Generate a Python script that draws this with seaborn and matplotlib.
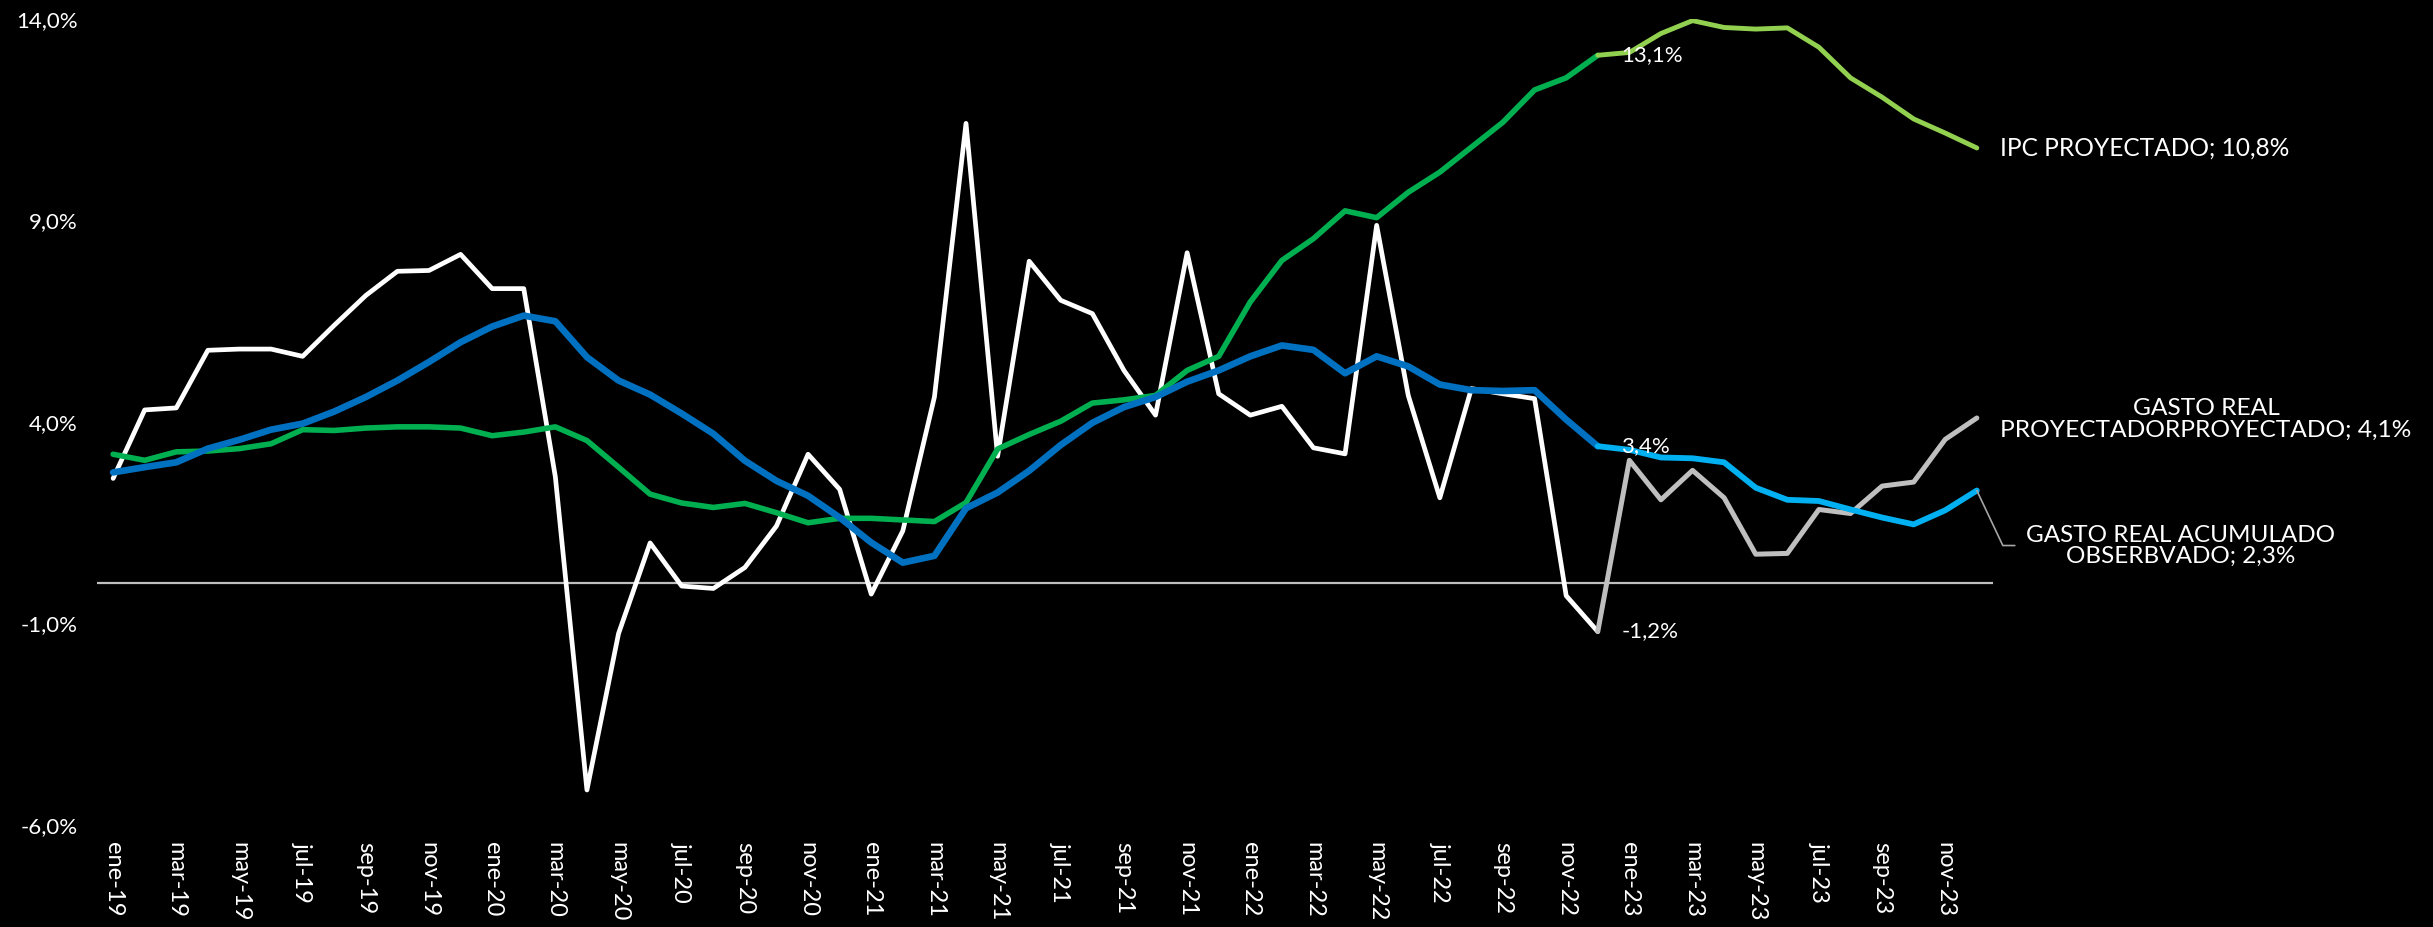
import numpy as np
import pandas as pd
import matplotlib
matplotlib.use("Agg")
import matplotlib.pyplot as plt
import seaborn as sns

# Month labels, ene-19 .. dic-23
abrev = ["ene", "feb", "mar", "abr", "may", "jun", "jul", "ago", "sep", "oct", "nov", "dic"]
meses = [f"{m}-{a}" for a in range(19, 24) for m in abrev]

# Observed series, ene-19 .. dic-22 (%)
gasto_real = [2.6, 4.3, 4.35, 5.78, 5.81, 5.81, 5.63, 6.40, 7.14, 7.74, 7.76, 8.16,
              7.31, 7.31, 2.64, -5.13, -1.25, 1.0, -0.07, -0.13, 0.39, 1.42, 3.2, 2.33,
              -0.27, 1.30, 4.62, 11.41, 3.15, 7.99, 7.02, 6.69, 5.28, 4.17, 8.2, 4.70,
              4.17, 4.39, 3.36, 3.21, 8.88, 4.66, 2.12, 4.83, 4.70, 4.58, -0.31, -1.2]
gasto_acum = [2.75, 2.88, 3.0, 3.34, 3.56, 3.81, 3.96, 4.26, 4.62, 5.03, 5.49, 5.98,
              6.37, 6.64, 6.50, 5.61, 5.03, 4.68, 4.21, 3.71, 3.04, 2.54, 2.17, 1.63,
              1.01, 0.51, 0.68, 1.86, 2.25, 2.79, 3.43, 3.98, 4.37, 4.62, 5.0, 5.28,
              5.63, 5.90, 5.79, 5.21, 5.63, 5.38, 4.93, 4.79, 4.77, 4.79, 4.06, 3.4]
ipc = [3.20, 3.05, 3.26, 3.28, 3.34, 3.46, 3.81, 3.79, 3.85, 3.88, 3.88, 3.85,
       3.66, 3.75, 3.88, 3.54, 2.88, 2.21, 1.99, 1.88, 1.98, 1.75, 1.50, 1.61,
       1.61, 1.57, 1.53, 2.0, 3.33, 3.69, 4.02, 4.47, 4.55, 4.66, 5.28, 5.63,
       6.98, 8.01, 8.55, 9.24, 9.07, 9.70, 10.20, 10.82, 11.44, 12.24, 12.54, 13.1]

# Projected series, dic-22 .. dic-23 (%)
gasto_real_proy = [-1.2, 3.05, 2.07, 2.80, 2.12, 0.72, 0.74, 1.83, 1.73, 2.41, 2.51, 3.57, 4.1]
gasto_acum_proy = [3.4, 3.31, 3.12, 3.10, 3.0, 2.37, 2.07, 2.04, 1.83, 1.63, 1.46, 1.81, 2.3]
ipc_proy = [13.1, 13.17, 13.64, 13.96, 13.79, 13.75, 13.78, 13.30, 12.54, 12.06, 11.52, 11.17, 10.8]

etiqueta_ipc_proy = "IPC PROYECTADO; 10,8%"
etiqueta_gasto_proy = "GASTO REAL\nPROYECTADORPROYECTADO; 4,1%"
etiqueta_gasto_acum = "GASTO REAL ACUMULADO\nOBSERBVADO; 2,3%"

n_obs = len(gasto_real)
idx_obs = np.arange(n_obs)
idx_proy = np.arange(n_obs - 1, len(meses))

sns.set_theme(style="white")
plt.rcParams["font.family"] = ["Lato", "DejaVu Sans"]
plt.rcParams["text.color"] = "white"

fig = plt.figure(figsize=(24.33, 9.27), dpi=100, facecolor="black")
ax = fig.add_axes([0.040, 0.110, 0.779, 0.8695])
ax.set_facecolor("black")

ax.axhline(0, color="#BFBFBF", lw=1.6, zorder=1)

sns.lineplot(x=idx_obs, y=gasto_real, ax=ax, color="white", lw=3.4, zorder=2)
sns.lineplot(x=idx_proy, y=gasto_real_proy, ax=ax, color="#BFBFBF", lw=3.6, zorder=2)
sns.lineplot(x=idx_obs, y=ipc, ax=ax, color="#00B050", lw=4.0, zorder=3)
sns.lineplot(x=idx_proy, y=ipc_proy, ax=ax, color="#92D050", lw=3.5, zorder=3)
sns.lineplot(x=idx_obs, y=gasto_acum, ax=ax, color="#0070C0", lw=4.8, zorder=4)
sns.lineplot(x=idx_proy, y=gasto_acum_proy, ax=ax, color="#00B0F0", lw=4.2, zorder=4)

ax.set_xlim(-0.5, len(meses) - 0.5)
ax.set_ylim(-6, 14)
ax.set_yticks([-6, -1, 4, 9, 14])
ax.set_yticklabels([f"{v:.1f}%".replace(".", ",") for v in [-6, -1, 4, 9, 14]])
ax.set_xticks(range(0, len(meses), 2))
ax.set_xticklabels(meses[::2], rotation=-90, ha="center", va="top")
ax.tick_params(axis="x", length=0, pad=12, labelsize=17, colors="white")
ax.tick_params(axis="y", length=0, pad=14, labelsize=16, colors="white")
for s in ax.spines.values():
    s.set_visible(False)
ax.grid(False)

# Value labels at dic-22
k = n_obs - 1
tk = dict(fontsize=16, color="white", va="center", ha="left", zorder=6)
ax.annotate(f"{ipc[k]:.1f}%".replace(".", ","), (k, ipc[k]), xytext=(17, 0),
            textcoords="offset points", **tk)
ax.annotate(f"{gasto_acum[k]:.1f}%".replace(".", ","), (k, gasto_acum[k]), xytext=(17, 0),
            textcoords="offset points", **tk)
ax.annotate(f"{gasto_real[k]:.1f}%".replace(".", ","), (k, gasto_real[k]), xytext=(17, 0),
            textcoords="offset points", **tk)

# Series labels at the end of the projection
last = len(meses) - 1
t_ipc = ax.annotate(etiqueta_ipc_proy, (last, ipc_proy[-1]), xytext=(17, 0),
                    textcoords="offset points", fontsize=18, color="white",
                    va="center", ha="left", annotation_clip=False)
t_proy = ax.annotate(etiqueta_gasto_proy, (last, gasto_real_proy[-1]), xytext=(165, -1),
                     textcoords="offset points", fontsize=18, color="white",
                     va="center", ha="center", multialignment="center",
                     annotation_clip=False, linespacing=1.0)
t_acum = ax.annotate(etiqueta_gasto_acum, (last, gasto_acum_proy[-1]), xytext=(147, -40),
                     textcoords="offset points", fontsize=18, color="white",
                     va="center", ha="center", multialignment="center",
                     annotation_clip=False, linespacing=1.0)


def ajustar_ancho(texto, ancho_px):
    """Scale a label's font size so its widest line spans ancho_px pixels."""
    r = fig.canvas.get_renderer()
    for _ in range(3):
        w = texto.get_window_extent(renderer=r).width
        texto.set_fontsize(texto.get_fontsize() * ancho_px / w)


ajustar_ancho(t_ipc, 290)
ajustar_ancho(t_proy, 411)
ajustar_ancho(t_acum, 310)

# leader line for the accumulated label
x0, y0 = ax.transData.transform((last, gasto_acum_proy[-1]))
inv = ax.transData.inverted()
p1 = inv.transform((x0 + 26, y0 - 55))
p2 = inv.transform((x0 + 38, y0 - 55))
ax.plot([last, p1[0], p2[0]], [gasto_acum_proy[-1], p1[1], p2[1]],
        color="#A6A6A6", lw=1.2, clip_on=False, zorder=5)

fig.savefig("out.png", dpi=100, facecolor="black")
